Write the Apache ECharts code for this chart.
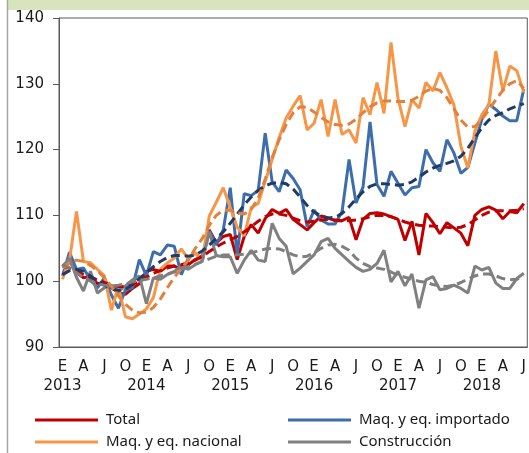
<!DOCTYPE html>
<html>
<head>
<meta charset="utf-8">
<script src="https://cdn.jsdelivr.net/npm/echarts@6/dist/echarts.min.js"></script>
<style>
  html, body { margin: 0; padding: 0; background: #fff; }
  #chart { width: 529px; height: 453px; }
</style>
</head>
<body>
<div id="chart"></div>
<script>
// meses: enero 2013 a julio 2018
const years = [2013, 2014, 2015, 2016, 2017, 2018]
const monthInitials = ['E', 'F', 'M', 'A', 'M', 'J', 'J', 'A', 'S', 'O', 'N', 'D']
const labeledMonths = [0, 3, 6, 9] // E A J O
const monthCount = 67

const yTicks = [90, 100, 110, 120, 130, 140]

// series originales
const total = [
  102.3, 103.2, 101.3, 100.5, 100.8, 99.6, 99.8, 99.0, 98.3, 98.0, 98.9, 99.6,
  101.5, 101.8, 101.5, 102.3, 102.3, 101.8, 102.5, 103.3, 103.8, 107.8, 105.8, 106.8,
  107.1, 103.3, 106.8, 108.6, 107.3, 109.5, 110.9, 110.3, 110.9, 109.4, 108.6, 107.8,
  108.9, 109.9, 109.6, 109.2, 109.2, 109.7, 106.3, 109.4, 110.3, 110.4, 110.2, 109.8,
  109.4, 106.2, 109.1, 104.0, 110.3, 108.9, 107.2, 108.9, 108.1, 107.3, 105.4, 110.0,
  110.9, 111.3, 110.8, 109.5, 110.6, 110.4, 111.8
]
const importado = [
  100.8, 104.4, 101.8, 102.0, 100.2, 99.0, 100.5, 97.9, 95.9, 98.7, 99.0, 103.3,
  100.8, 104.5, 104.0, 105.5, 105.3, 101.0, 103.5, 104.3, 103.2, 107.6, 105.5, 107.8,
  114.2, 104.0, 113.3, 113.0, 113.8, 122.5, 115.1, 113.6, 116.9, 115.6, 113.9, 108.3,
  110.8, 109.3, 108.7, 108.7, 110.6, 118.5, 111.9, 114.3, 124.2, 114.7, 112.9, 116.7,
  114.9, 113.1, 114.2, 114.4, 120.0, 118.0, 116.7, 121.5, 119.5, 116.4, 117.3, 121.0,
  124.6, 126.9, 126.1, 125.1, 124.4, 124.4, 129.2
]
const nacional = [
  100.3, 103.2, 110.6, 103.0, 102.8, 101.8, 100.8, 95.6, 99.2, 94.6, 94.3, 95.0,
  95.8, 97.5, 101.8, 102.8, 103.5, 104.9, 103.4, 104.3, 103.2, 109.9, 112.0, 114.2,
  111.2, 108.2, 106.9, 111.2, 111.8, 115.2, 118.5, 121.8, 124.8, 126.6, 128.2, 123.0,
  124.0, 127.6, 122.0, 127.6, 122.3, 123.0, 121.0, 127.9, 125.3, 130.2, 125.5, 136.3,
  127.8, 123.5, 127.6, 126.3, 130.2, 128.9, 131.7, 129.4, 126.8, 120.5, 117.2, 122.8,
  125.3, 126.8, 135.0, 128.9, 132.7, 132.0, 128.7
]
const construccion = [
  102.2, 103.5, 100.6, 98.5, 101.5, 98.2, 99.0, 99.4, 98.4, 99.3, 100.2, 100.8,
  96.6, 100.5, 100.3, 101.0, 101.5, 102.3, 101.8, 102.5, 103.0, 107.5, 103.9, 103.7,
  103.7, 101.2, 103.2, 104.7, 103.2, 103.0, 108.8, 106.5, 105.3, 101.1, 102.0, 103.0,
  104.0, 106.0, 106.5, 105.0, 104.0, 103.0, 102.1, 101.5, 101.8, 102.7, 104.7, 99.9,
  101.5, 99.3, 101.1, 95.9, 100.2, 100.7, 98.7, 98.9, 99.4, 98.9, 98.2, 102.3,
  101.7, 102.1, 99.7, 98.9, 98.9, 100.4, 101.2
]

// tendencias (lineas punteadas)
const totalTend = [
  102.3, 102.0, 101.5, 101.0, 100.6, 100.2, 99.8, 99.4, 99.2, 99.2, 99.5, 100.0,
  100.6, 101.2, 101.6, 102.0, 102.3, 102.5, 102.8, 103.2, 103.8, 104.5, 105.2, 105.8,
  106.3, 106.8, 107.5, 108.3, 109.1, 109.8, 110.2, 110.2, 110.0, 109.6, 109.2, 109.0,
  109.1, 109.3, 109.4, 109.3, 109.2, 109.2, 109.3, 109.5, 109.8, 110.0, 110.0, 109.8,
  109.4, 109.0, 108.7, 108.5, 108.4, 108.4, 108.3, 108.2, 108.1, 108.2, 108.6, 109.3,
  110.0, 110.5, 110.7, 110.7, 110.7, 110.8, 111.0
]
const importadoTend = [
  101.0, 101.6, 101.8, 101.5, 100.8, 100.0, 99.4, 98.9, 98.6, 98.8, 99.5, 100.4,
  101.3, 102.2, 103.0, 103.6, 103.9, 103.9, 103.8, 104.0, 104.6, 105.5, 106.5, 107.5,
  108.8, 110.2, 111.6, 112.8, 113.8, 114.5, 114.9, 115.0, 114.8, 114.0, 112.8, 111.5,
  110.5, 109.9, 109.6, 109.7, 110.3, 111.3, 112.5, 113.6, 114.4, 114.8, 114.8, 114.7,
  114.6, 114.7, 115.1, 115.8, 116.6, 117.2, 117.6, 117.9, 118.3, 119.0, 120.2, 121.8,
  123.3, 124.5, 125.2, 125.6, 126.2, 126.6, 127.0
]
const nacionalTend = [
  102.0, 102.8, 103.2, 103.0, 102.4, 101.6, 100.5, 99.2, 97.8, 96.5, 95.6, 95.2,
  95.3, 96.0, 97.3, 99.0, 100.6, 101.9, 103.2, 105.0, 106.5, 108.5, 110.0, 110.8,
  110.8, 110.4, 110.2, 110.9, 112.6, 115.5, 118.8, 121.5, 123.8, 125.6, 126.5, 126.4,
  125.7, 124.9, 124.2, 123.8, 123.7, 123.9, 124.6, 125.6, 126.5, 127.1, 127.4, 127.4,
  127.3, 127.3, 127.5, 128.1, 128.9, 129.3, 129.0, 127.9, 126.2, 124.5, 123.4, 123.5,
  124.6, 126.0, 127.6, 129.0, 130.0, 130.5, 129.3
]
const construccionTend = [
  102.5, 102.0, 101.3, 100.6, 100.0, 99.6, 99.4, 99.3, 99.4, 99.6, 99.9, 100.1,
  100.3, 100.5, 100.8, 101.1, 101.4, 101.8, 102.2, 102.6, 103.0, 103.4, 103.8, 104.0,
  104.0, 104.0, 104.1, 104.3, 104.6, 104.9, 105.0, 104.9, 104.5, 104.0, 103.7, 103.8,
  104.3, 105.0, 105.5, 105.6, 105.3, 104.7, 103.5, 102.7, 102.2, 102.0, 101.8, 101.4,
  100.9, 100.6, 100.3, 100.0, 99.8, 99.5, 99.3, 99.2, 99.4, 99.8, 100.3, 100.8,
  101.1, 101.1, 100.8, 100.4, 100.2, 100.3, 100.7
]

const categories = []
years.forEach(y => {
  monthInitials.forEach((m, i) => {
    if (categories.length < monthCount) categories.push({ year: y, month: i })
  })
})

const axisFont = 'DejaVu Sans'
const legendFont = 'Noto Sans'

function solid(name, data, color) {
  return {
    name: name,
    type: 'line',
    data: data,
    color: color,
    symbol: 'none',
    lineStyle: { color: color, width: 3 },
    itemStyle: { color: color }
  }
}
function dashed(name, data, color) {
  return {
    name: name,
    type: 'line',
    data: data,
    symbol: 'none',
    lineStyle: { color: color, width: 3, type: [9, 5] }
  }
}
function legendItem(name, left, top) {
  return {
    data: [name],
    left: left,
    top: top,
    padding: 0,
    icon: 'rect',
    itemWidth: 63,
    itemHeight: 3,
    selectedMode: false,
    textStyle: {
      fontFamily: legendFont,
      fontSize: 15,
      color: '#1a1a1a',
      lineHeight: 20,
      padding: [0, 0, 0, 3]
    }
  }
}

const chart = echarts.init(document.getElementById('chart'))
chart.setOption({
  animation: false,
  backgroundColor: '#fff',
  graphic: [
    { type: 'rect', shape: { x: 7, y: 0, width: 522, height: 10 }, style: { fill: '#d7e4bd' } },
    { type: 'line', shape: { x1: 7.5, y1: 0, x2: 7.5, y2: 453 }, style: { stroke: '#a6a6a6', lineWidth: 1.5 } }
  ],
  grid: {
    left: 59,
    right: 1,
    top: 18,
    bottom: 106,
    show: true,
    borderColor: '#595959',
    borderWidth: 1
  },
  legend: [
    legendItem('Total', 35, 410),
    legendItem('Maq. y eq. importado', 288, 410),
    legendItem('Maq. y eq. nacional', 35, 432),
    legendItem('Construcción', 288, 432)
  ],
  xAxis: {
    type: 'category',
    data: categories.map(c => c.year + '-' + (c.month + 1)),
    boundaryGap: true,
    axisLine: { lineStyle: { color: '#595959' } },
    axisTick: { interval: 0, length: 5, lineStyle: { color: '#595959' } },
    axisLabel: {
      interval: 0,
      margin: 11,
      fontFamily: axisFont,
      fontSize: 15,
      lineHeight: 19,
      color: '#1a1a1a',
      formatter: (v, idx) => {
        const c = categories[idx]
        if (labeledMonths.indexOf(c.month) < 0) return ''
        const letter = monthInitials[c.month]
        return c.month === 0 ? letter + '\n' + c.year : letter
      }
    },
    splitLine: { show: false }
  },
  yAxis: {
    type: 'value',
    min: yTicks[0],
    max: yTicks[yTicks.length - 1],
    interval: 10,
    axisLine: { show: true, lineStyle: { color: '#595959' } },
    axisTick: { show: true, length: 6, lineStyle: { color: '#595959' } },
    axisLabel: { margin: 15, fontFamily: axisFont, fontSize: 15, color: '#1a1a1a' },
    splitLine: { show: false }
  },
  series: [
    solid('Total', total, '#c00000'),
    solid('Maq. y eq. importado', importado, '#3d6eab'),
    solid('Maq. y eq. nacional', nacional, '#f79646'),
    solid('Construcción', construccion, '#808080'),
    dashed('Total tendencia', totalTend, '#c00000'),
    dashed('Importado tendencia', importadoTend, '#1f3b66'),
    dashed('Nacional tendencia', nacionalTend, '#e2803e'),
    dashed('Construcción tendencia', construccionTend, '#7f7f7f')
  ]
})
</script>
</body>
</html>
